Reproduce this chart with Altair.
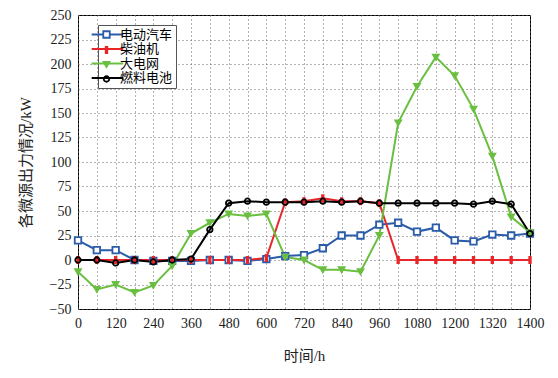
import altair as alt
import pandas as pd

# time axis (data every 60)
x_vals = list(range(0, 1441, 60))
series_names = ["电动汽车", "柴油机", "大电网", "燃料电池"]
ev = [20, 10, 10, 0, -1, -1, -1, 0, 0, -1, 1, 4, 5, 12, 25, 25, 36, 38, 29, 33, 20, 19, 26, 25, 27]
diesel = [0, 0, 0, 0, 0, 0, 0, 0, 0, 0, 2, 59, 60, 63, 60, 60, 58, 0, 0, 0, 0, 0, 0, 0, 0]
grid = [-12, -30, -25, -33, -26, -6, 27, 38, 47, 45, 47, 3, 0, -10, -10, -12, 25, 140, 177, 207, 188, 154, 106, 44, 28]
fuel = [0, 0, -3, 0, -2, 0, 1, 31, 58, 60, 59, 59, 59, 60, 59, 60, 58, 58, 58, 58, 58, 57, 60, 57, 27]

x_tick_values = list(range(0, 1441, 60))
x_label_values = list(range(0, 1441, 120))
x_label_text = ["0", "120", "240", "360", "480", "600", "720", "840", "960", "1080", "1200", "1320", "1400"]
y_tick_values = list(range(-50, 251, 25))

colors = ["#2a5caa", "#e8262a", "#6abf40", "#000000"]
fills = ["white", "#e8262a", "#6abf40", "transparent"]
shapes = ["square", "M-0.25,-1H0.25V1H-0.25Z", "triangle-down", "circle"]
sizes = [42, 30, 55, 85]

rows = []
for name, vals in zip(series_names, [ev, diesel, grid, fuel]):
    for xv, yv in zip(x_vals, vals):
        rows.append({"t": xv, "v": yv, "s": name, "s2": name})
df = pd.DataFrame(rows)

label_map = " : ".join(
    [f"datum.value == {v} ? '{t}'" for v, t in zip(x_label_values, x_label_text)]
) + " : ''"

FONT = "'Liberation Serif', 'Noto Sans CJK SC', serif"
GRID = dict(grid=True, gridColor="#666", gridDash=[1, 3], gridWidth=1, gridOpacity=1)

x_enc = alt.X(
    "t:Q",
    scale=alt.Scale(domain=[0, 1440], nice=False, zero=False),
    axis=alt.Axis(
        values=x_tick_values, labelExpr=label_map, title="时间/h",
        ticks=False, labelPadding=7, labelFlush=False, labelOverlap=False,
        titleX=226, titleY=46, titleBaseline="middle", titleAnchor="middle", **GRID,
    ),
)
y_enc = alt.Y(
    "v:Q",
    scale=alt.Scale(domain=[-50, 250], nice=False),
    axis=alt.Axis(
        values=y_tick_values, title="各微源出力情况/kW", ticks=False,
        labelPadding=7, titleX=-53, titleY=147, titleAngle=-90, labelOverlap=False,
        titleBaseline="middle", titleAlign="center", **GRID,
    ),
)

legend_common = dict(
    orient="none", title=None, labelFontSize=13, labelFont=FONT,
    rowPadding=0.5, padding=3, labelLimit=200, legendY=10,
)

lines = alt.Chart(df).mark_line(strokeWidth=2).encode(
    x=x_enc, y=y_enc,
    color=alt.Color(
        "s:N", sort=series_names,
        scale=alt.Scale(range=colors),
        legend=alt.Legend(
            symbolType="M-5,0H5", symbolSize=40, symbolStrokeWidth=2.2,
            legendX=20, strokeColor="#555", fillColor="white",
            labelOffset=6, **legend_common,
        ),
    ),
)

shape_legend = alt.Legend(
    symbolStrokeWidth=1.8, legendX=19, labelExpr="' '", **legend_common,
)

points = alt.Chart(df).mark_point(filled=True, strokeWidth=1.8, opacity=1).encode(
    x=x_enc, y=y_enc,
    shape=alt.Shape("s2:N", scale=alt.Scale(domain=series_names, range=shapes), legend=shape_legend),
    stroke=alt.Stroke("s2:N", scale=alt.Scale(domain=series_names, range=colors), legend=shape_legend),
    fill=alt.Fill("s2:N", scale=alt.Scale(domain=series_names, range=fills), legend=shape_legend),
    size=alt.Size("s2:N", scale=alt.Scale(domain=series_names, range=sizes), legend=shape_legend),
)

chart = alt.layer(lines, points).properties(
    width=452, height=294,
    autosize=alt.AutoSizeParams(type="none"),
    padding={"left": 70, "top": 7, "right": 20, "bottom": 60},
    background="white",
).configure_view(
    stroke="black", strokeWidth=1,
).configure_axis(
    labelFont=FONT, titleFont=FONT, labelFontSize=14, titleFontSize=15,
    labelColor="#222", titleColor="#222", titleFontWeight="normal", domain=False,
    labelOverlap=False,
)

chart.save("out.html", embed_options={"renderer": "svg", "actions": False})
